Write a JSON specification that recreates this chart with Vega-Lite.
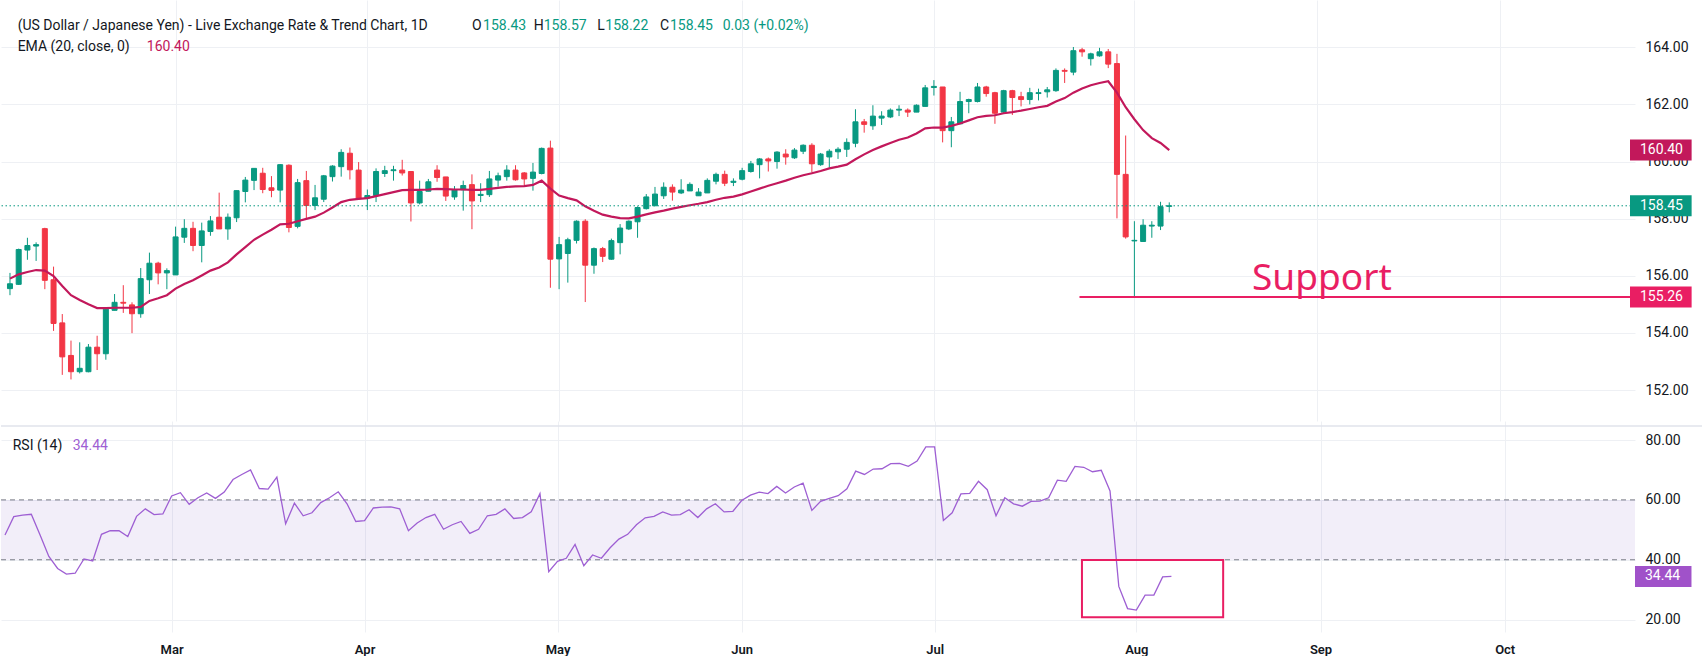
{
"$schema": "https://vega.github.io/schema/vega-lite/v6.json",
"padding": 0,
"background": "#ffffff",
"spacing": 0,
"config": {"view": {"stroke": null}, "axis": {"gridColor": "#eef0f4", "labelFont": "Roboto", "labelColor": "#131722", "labelFontSize": 14, "domain": false, "ticks": false}},
"resolve": {"scale": {"x": "independent", "y": "independent", "color": "independent"}},
"datasets": {"ohlc": [
{"i":0,"o":155.55,"h":156.10,"l":155.32,"c":155.72,"e":155.90,"r":48.3},
{"i":1,"o":155.70,"h":156.95,"l":155.68,"c":156.92,"e":156.05,"r":54.4},
{"i":2,"o":156.90,"h":157.33,"l":156.56,"c":157.06,"e":156.13,"r":54.9},
{"i":3,"o":157.04,"h":157.17,"l":156.52,"c":157.09,"e":156.20,"r":55.2},
{"i":4,"o":157.65,"h":157.68,"l":155.53,"c":155.84,"e":156.18,"r":48.3},
{"i":5,"o":155.86,"h":156.32,"l":154.07,"c":154.33,"e":155.99,"r":41.1},
{"i":6,"o":154.35,"h":154.66,"l":152.53,"c":153.16,"e":155.64,"r":37.1},
{"i":7,"o":153.21,"h":153.73,"l":152.37,"c":152.64,"e":155.32,"r":35.2},
{"i":8,"o":152.64,"h":153.67,"l":152.58,"c":152.76,"e":155.15,"r":35.5},
{"i":9,"o":152.64,"h":153.61,"l":152.62,"c":153.50,"e":155.00,"r":40.3},
{"i":10,"o":153.50,"h":153.90,"l":152.70,"c":153.27,"e":154.87,"r":39.6},
{"i":11,"o":153.27,"h":154.87,"l":153.06,"c":154.83,"e":154.87,"r":48.5},
{"i":12,"o":154.79,"h":155.36,"l":154.79,"c":155.07,"e":154.88,"r":49.7},
{"i":13,"o":155.07,"h":155.67,"l":154.70,"c":155.04,"e":154.88,"r":49.7},
{"i":14,"o":154.98,"h":155.07,"l":153.99,"c":154.67,"e":154.88,"r":47.8},
{"i":15,"o":154.67,"h":156.27,"l":154.53,"c":155.90,"e":154.91,"r":54.5},
{"i":16,"o":155.86,"h":156.81,"l":155.36,"c":156.44,"e":155.12,"r":57.0},
{"i":17,"o":156.44,"h":156.49,"l":155.70,"c":156.10,"e":155.21,"r":55.1},
{"i":18,"o":156.10,"h":156.26,"l":155.53,"c":156.18,"e":155.32,"r":55.3},
{"i":19,"o":156.03,"h":157.72,"l":156.03,"c":157.36,"e":155.55,"r":61.3},
{"i":20,"o":157.35,"h":157.98,"l":157.15,"c":157.66,"e":155.71,"r":62.4},
{"i":21,"o":157.66,"h":157.89,"l":156.86,"c":157.06,"e":155.84,"r":58.5},
{"i":22,"o":157.06,"h":157.86,"l":156.47,"c":157.57,"e":156.01,"r":60.7},
{"i":23,"o":157.55,"h":158.09,"l":157.40,"c":157.92,"e":156.18,"r":62.3},
{"i":24,"o":158.05,"h":158.91,"l":157.64,"c":157.64,"e":156.29,"r":60.5},
{"i":25,"o":157.64,"h":158.18,"l":157.26,"c":158.05,"e":156.47,"r":62.6},
{"i":26,"o":158.03,"h":158.98,"l":157.88,"c":158.98,"e":156.75,"r":66.8},
{"i":27,"o":158.95,"h":159.46,"l":158.57,"c":159.35,"e":157.00,"r":68.5},
{"i":28,"o":159.34,"h":159.76,"l":159.00,"c":159.76,"e":157.26,"r":70.0},
{"i":29,"o":159.59,"h":159.78,"l":158.89,"c":159.02,"e":157.44,"r":63.8},
{"i":30,"o":159.08,"h":159.49,"l":158.75,"c":158.99,"e":157.61,"r":63.6},
{"i":31,"o":159.00,"h":159.91,"l":158.57,"c":159.89,"e":157.80,"r":67.6},
{"i":32,"o":159.87,"h":159.90,"l":157.52,"c":157.69,"e":157.82,"r":52.0},
{"i":33,"o":157.73,"h":159.39,"l":157.66,"c":159.26,"e":157.91,"r":58.9},
{"i":34,"o":159.33,"h":159.67,"l":158.01,"c":158.46,"e":157.99,"r":54.7},
{"i":35,"o":158.46,"h":159.18,"l":158.30,"c":158.73,"e":158.07,"r":55.7},
{"i":36,"o":158.68,"h":159.53,"l":158.58,"c":159.50,"e":158.21,"r":59.1},
{"i":37,"o":159.47,"h":159.87,"l":159.30,"c":159.84,"e":158.39,"r":60.7},
{"i":38,"o":159.82,"h":160.43,"l":159.47,"c":160.32,"e":158.58,"r":62.7},
{"i":39,"o":160.29,"h":160.49,"l":159.37,"c":159.71,"e":158.66,"r":58.7},
{"i":40,"o":159.70,"h":159.98,"l":158.71,"c":158.71,"e":158.69,"r":52.8},
{"i":41,"o":158.72,"h":159.02,"l":158.30,"c":158.81,"e":158.72,"r":53.1},
{"i":42,"o":158.81,"h":159.76,"l":158.58,"c":159.65,"e":158.79,"r":57.3},
{"i":43,"o":159.58,"h":159.85,"l":159.46,"c":159.68,"e":158.86,"r":57.6},
{"i":44,"o":159.68,"h":159.85,"l":159.33,"c":159.71,"e":158.93,"r":57.7},
{"i":45,"o":159.70,"h":160.06,"l":159.51,"c":159.60,"e":159.00,"r":57.0},
{"i":46,"o":159.65,"h":159.65,"l":157.90,"c":158.55,"e":159.01,"r":49.7},
{"i":47,"o":158.55,"h":159.33,"l":158.50,"c":158.95,"e":159.01,"r":52.3},
{"i":48,"o":158.96,"h":159.39,"l":158.96,"c":159.29,"e":159.02,"r":54.1},
{"i":49,"o":159.70,"h":159.87,"l":159.29,"c":159.44,"e":159.04,"r":55.2},
{"i":50,"o":159.46,"h":159.46,"l":158.62,"c":158.79,"e":159.03,"r":50.2},
{"i":51,"o":158.76,"h":159.14,"l":158.66,"c":159.01,"e":159.02,"r":51.7},
{"i":52,"o":159.01,"h":159.33,"l":158.28,"c":159.16,"e":159.02,"r":52.8},
{"i":53,"o":159.19,"h":159.55,"l":157.63,"c":158.62,"e":159.01,"r":48.8},
{"i":54,"o":158.81,"h":159.24,"l":158.58,"c":158.85,"e":159.01,"r":50.2},
{"i":55,"o":158.84,"h":159.67,"l":158.76,"c":159.39,"e":159.04,"r":54.7},
{"i":56,"o":159.35,"h":159.61,"l":159.12,"c":159.50,"e":159.08,"r":55.2},
{"i":57,"o":159.47,"h":159.87,"l":159.33,"c":159.70,"e":159.11,"r":57.0},
{"i":58,"o":159.70,"h":159.87,"l":159.33,"c":159.36,"e":159.13,"r":53.8},
{"i":59,"o":159.60,"h":159.63,"l":159.16,"c":159.39,"e":159.14,"r":54.1},
{"i":60,"o":159.41,"h":159.95,"l":158.98,"c":159.63,"e":159.18,"r":56.0},
{"i":61,"o":159.58,"h":160.49,"l":159.55,"c":160.46,"e":159.33,"r":62.1},
{"i":62,"o":160.47,"h":160.73,"l":155.58,"c":156.58,"e":159.05,"r":36.0},
{"i":63,"o":156.59,"h":157.36,"l":155.53,"c":157.09,"e":158.81,"r":39.5},
{"i":64,"o":156.78,"h":157.33,"l":155.76,"c":157.26,"e":158.72,"r":40.5},
{"i":65,"o":157.24,"h":157.94,"l":157.13,"c":157.91,"e":158.64,"r":45.1},
{"i":66,"o":157.91,"h":157.98,"l":155.08,"c":156.37,"e":158.43,"r":38.0},
{"i":67,"o":156.37,"h":156.99,"l":156.07,"c":156.95,"e":158.28,"r":41.6},
{"i":68,"o":156.95,"h":157.01,"l":156.48,"c":156.68,"e":158.14,"r":40.5},
{"i":69,"o":156.58,"h":157.30,"l":156.56,"c":157.23,"e":158.07,"r":44.0},
{"i":70,"o":157.16,"h":157.81,"l":156.75,"c":157.67,"e":158.02,"r":46.9},
{"i":71,"o":157.64,"h":157.94,"l":157.60,"c":157.91,"e":158.01,"r":48.5},
{"i":72,"o":157.89,"h":158.43,"l":157.33,"c":158.39,"e":158.07,"r":51.7},
{"i":73,"o":158.35,"h":158.86,"l":158.32,"c":158.76,"e":158.15,"r":54.0},
{"i":74,"o":158.45,"h":159.11,"l":158.45,"c":158.86,"e":158.22,"r":54.5},
{"i":75,"o":158.80,"h":159.27,"l":158.69,"c":159.10,"e":158.28,"r":56.0},
{"i":76,"o":159.10,"h":159.20,"l":158.63,"c":158.93,"e":158.35,"r":54.9},
{"i":77,"o":158.90,"h":159.38,"l":158.86,"c":159.00,"e":158.41,"r":55.1},
{"i":78,"o":158.97,"h":159.27,"l":158.97,"c":159.20,"e":158.47,"r":56.7},
{"i":79,"o":158.80,"h":159.07,"l":158.80,"c":158.93,"e":158.52,"r":54.1},
{"i":80,"o":158.90,"h":159.41,"l":158.90,"c":159.34,"e":158.58,"r":57.0},
{"i":81,"o":159.31,"h":159.61,"l":159.20,"c":159.55,"e":158.66,"r":58.7},
{"i":82,"o":159.55,"h":159.68,"l":159.14,"c":159.24,"e":158.73,"r":56.0},
{"i":83,"o":159.27,"h":159.41,"l":159.14,"c":159.31,"e":158.77,"r":56.2},
{"i":84,"o":159.38,"h":159.78,"l":159.34,"c":159.68,"e":158.85,"r":59.8},
{"i":85,"o":159.65,"h":160.02,"l":159.61,"c":159.92,"e":158.95,"r":61.6},
{"i":86,"o":159.89,"h":160.12,"l":159.41,"c":160.09,"e":159.05,"r":62.6},
{"i":87,"o":160.09,"h":160.14,"l":159.65,"c":160.02,"e":159.15,"r":62.1},
{"i":88,"o":160.00,"h":160.36,"l":159.75,"c":160.33,"e":159.24,"r":64.5},
{"i":89,"o":160.26,"h":160.43,"l":159.89,"c":160.16,"e":159.33,"r":62.3},
{"i":90,"o":160.13,"h":160.47,"l":160.09,"c":160.40,"e":159.43,"r":64.3},
{"i":91,"o":160.36,"h":160.60,"l":160.26,"c":160.57,"e":159.52,"r":65.6},
{"i":92,"o":160.57,"h":160.64,"l":159.61,"c":159.92,"e":159.59,"r":56.5},
{"i":93,"o":159.89,"h":160.30,"l":159.85,"c":160.26,"e":159.67,"r":59.5},
{"i":94,"o":160.16,"h":160.43,"l":159.78,"c":160.36,"e":159.76,"r":60.5},
{"i":95,"o":160.34,"h":160.50,"l":160.09,"c":160.43,"e":159.82,"r":61.4},
{"i":96,"o":160.43,"h":160.81,"l":160.16,"c":160.67,"e":159.89,"r":63.7},
{"i":97,"o":160.64,"h":161.83,"l":160.50,"c":161.39,"e":160.08,"r":69.6},
{"i":98,"o":161.39,"h":161.49,"l":161.01,"c":161.30,"e":160.25,"r":68.5},
{"i":99,"o":161.25,"h":161.97,"l":161.11,"c":161.59,"e":160.40,"r":70.3},
{"i":100,"o":161.52,"h":161.76,"l":161.28,"c":161.59,"e":160.53,"r":70.4},
{"i":101,"o":161.56,"h":161.86,"l":161.52,"c":161.80,"e":160.65,"r":72.1},
{"i":102,"o":161.80,"h":161.97,"l":161.59,"c":161.83,"e":160.76,"r":72.2},
{"i":103,"o":161.80,"h":161.86,"l":161.56,"c":161.73,"e":160.84,"r":71.2},
{"i":104,"o":161.73,"h":162.00,"l":161.73,"c":161.97,"e":160.98,"r":73.0},
{"i":105,"o":161.93,"h":162.68,"l":161.93,"c":162.58,"e":161.16,"r":77.7},
{"i":106,"o":162.59,"h":162.85,"l":162.31,"c":162.63,"e":161.19,"r":77.7},
{"i":107,"o":162.61,"h":162.61,"l":160.67,"c":161.08,"e":161.19,"r":53.1},
{"i":108,"o":161.08,"h":161.56,"l":160.50,"c":161.39,"e":161.25,"r":55.7},
{"i":109,"o":161.32,"h":162.44,"l":161.32,"c":162.10,"e":161.33,"r":62.0},
{"i":110,"o":162.10,"h":162.20,"l":161.69,"c":162.17,"e":161.44,"r":62.2},
{"i":111,"o":162.10,"h":162.75,"l":162.07,"c":162.61,"e":161.55,"r":66.2},
{"i":112,"o":162.61,"h":162.65,"l":162.27,"c":162.38,"e":161.60,"r":63.4},
{"i":113,"o":162.41,"h":162.44,"l":161.32,"c":161.69,"e":161.62,"r":54.7},
{"i":114,"o":161.73,"h":162.51,"l":161.69,"c":162.48,"e":161.69,"r":60.7},
{"i":115,"o":162.48,"h":162.51,"l":161.63,"c":162.24,"e":161.73,"r":58.7},
{"i":116,"o":162.27,"h":162.44,"l":161.93,"c":162.17,"e":161.78,"r":57.9},
{"i":117,"o":162.17,"h":162.58,"l":162.00,"c":162.41,"e":161.84,"r":59.5},
{"i":118,"o":162.38,"h":162.55,"l":162.14,"c":162.41,"e":161.90,"r":59.6},
{"i":119,"o":162.44,"h":162.61,"l":162.24,"c":162.51,"e":161.95,"r":60.7},
{"i":120,"o":162.48,"h":163.26,"l":162.44,"c":163.19,"e":162.10,"r":66.6},
{"i":121,"o":163.19,"h":163.26,"l":162.75,"c":163.16,"e":162.22,"r":66.2},
{"i":122,"o":163.13,"h":164.01,"l":163.02,"c":163.88,"e":162.41,"r":71.2},
{"i":123,"o":163.91,"h":163.98,"l":163.67,"c":163.84,"e":162.56,"r":70.9},
{"i":124,"o":163.60,"h":163.81,"l":163.36,"c":163.77,"e":162.67,"r":69.4},
{"i":125,"o":163.70,"h":163.98,"l":163.67,"c":163.84,"e":162.75,"r":69.9},
{"i":126,"o":163.84,"h":163.94,"l":163.27,"c":163.41,"e":162.81,"r":63.0},
{"i":127,"o":163.43,"h":163.77,"l":158.01,"c":159.55,"e":162.41,"r":31.1},
{"i":128,"o":159.55,"h":160.91,"l":157.30,"c":157.36,"e":161.90,"r":23.7},
{"i":129,"o":157.22,"h":157.91,"l":155.26,"c":157.24,"e":161.48,"r":23.2},
{"i":130,"o":157.20,"h":157.98,"l":157.20,"c":157.77,"e":161.10,"r":28.2},
{"i":131,"o":157.74,"h":157.91,"l":157.33,"c":157.77,"e":160.82,"r":28.2},
{"i":132,"o":157.74,"h":158.59,"l":157.60,"c":158.42,"e":160.65,"r":34.3},
{"i":133,"o":158.43,"h":158.57,"l":158.22,"c":158.45,"e":160.40,"r":34.44}
]},
"vconcat": [
{
 "width": 1634, "height": 421,
 "layer": [
  {"data": {"name": "ohlc"},
   "mark": {"type": "rule", "strokeWidth": 1},
   "encoding": {
    "x": {"field": "i", "type": "quantitative", "title": null, "scale": {"domain": [-0.456, 185.86], "nice": false, "zero": false},
          "axis": {"values": [19,41,63,84,106,129,150,171], "labels": false, "grid": true, "minExtent": 0, "maxExtent": 0, "labelPadding": 0, "title": null}},
    "y": {"field": "l", "type": "quantitative", "title": null, "scale": {"domain": [151.09, 165.48], "nice": false, "zero": false},
          "axis": {"orient": "right", "values": [152,154,156,158,160,162,164], "format": ".2f", "labelAlign": "left", "labelBaseline": "middle", "labelPadding": 10, "grid": true, "title": null}},
    "y2": {"field": "h"},
    "color": {"condition": {"test": "datum.c >= datum.o", "value": "#089981"}, "value": "#f23645"}
   }},
  {"data": {"name": "ohlc"},
   "mark": {"type": "bar", "orient": "vertical", "size": 5, "strokeWidth": 1},
   "encoding": {
    "x": {"field": "i", "type": "quantitative", "title": null, "scale": {"domain": [-0.456, 185.86], "nice": false, "zero": false},
          "axis": {"values": [19,41,63,84,106,129,150,171], "labels": false, "grid": true, "minExtent": 0, "maxExtent": 0, "labelPadding": 0, "title": null}},
    "y": {"field": "o", "type": "quantitative", "title": null, "scale": {"domain": [151.09, 165.48], "nice": false, "zero": false},
          "axis": {"orient": "right", "values": [152,154,156,158,160,162,164], "format": ".2f", "labelAlign": "left", "labelBaseline": "middle", "labelPadding": 10, "grid": true, "title": null}},
    "y2": {"field": "c"},
    "color": {"condition": {"test": "datum.c >= datum.o", "value": "#089981"}, "value": "#f23645"},
    "stroke": {"condition": {"test": "datum.c >= datum.o", "value": "#089981"}, "value": "#f23645"}
   }},
  {"data": {"name": "ohlc"},
   "mark": {"type": "line", "color": "#c2185b", "strokeWidth": 2.2},
   "encoding": {
    "x": {"field": "i", "type": "quantitative", "title": null, "scale": {"domain": [-0.456, 185.86], "nice": false, "zero": false},
          "axis": {"values": [19,41,63,84,106,129,150,171], "labels": false, "grid": true, "minExtent": 0, "maxExtent": 0, "labelPadding": 0, "title": null}},
    "y": {"field": "e", "type": "quantitative", "title": null, "scale": {"domain": [151.09, 165.48], "nice": false, "zero": false},
          "axis": {"orient": "right", "values": [152,154,156,158,160,162,164], "format": ".2f", "labelAlign": "left", "labelBaseline": "middle", "labelPadding": 10, "grid": true, "title": null}}
   }},
  {"data": {"values": [{"v": 158.45}]},
   "mark": {"type": "rule", "color": "#089981", "strokeWidth": 1, "strokeDash": [1.5, 2.5]},
   "encoding": {
    "y": {"field": "v", "type": "quantitative", "title": null, "scale": {"domain": [151.09, 165.48], "nice": false, "zero": false},
          "axis": {"orient": "right", "values": [152,154,156,158,160,162,164], "format": ".2f", "labelAlign": "left", "labelBaseline": "middle", "labelPadding": 10, "grid": true, "title": null}}
   }},
  {"data": {"values": [{"v": 155.26}]},
   "mark": {"type": "rule", "color": "#e91e63", "strokeWidth": 2},
   "encoding": {
    "x": {"datum": 122.7, "type": "quantitative", "title": null, "scale": {"domain": [-0.456, 185.86], "nice": false, "zero": false},
          "axis": {"values": [19,41,63,84,106,129,150,171], "labels": false, "grid": true, "minExtent": 0, "maxExtent": 0, "labelPadding": 0, "title": null}},
    "x2": {"datum": 185.86},
    "y": {"field": "v", "type": "quantitative", "title": null, "scale": {"domain": [151.09, 165.48], "nice": false, "zero": false},
          "axis": {"orient": "right", "values": [152,154,156,158,160,162,164], "format": ".2f", "labelAlign": "left", "labelBaseline": "middle", "labelPadding": 10, "grid": true, "title": null}}
   }},
  {"data": {"values": [{"t": "Support", "v": 155.51}]},
   "mark": {"type": "text", "align": "left", "baseline": "alphabetic", "font": "Noto Sans", "fontSize": 37, "color": "#e91e63"},
   "encoding": {
    "x": {"datum": 142.5, "type": "quantitative", "title": null, "scale": {"domain": [-0.456, 185.86], "nice": false, "zero": false},
          "axis": {"values": [19,41,63,84,106,129,150,171], "labels": false, "grid": true, "minExtent": 0, "maxExtent": 0, "labelPadding": 0, "title": null}},
    "y": {"field": "v", "type": "quantitative", "title": null, "scale": {"domain": [151.09, 165.48], "nice": false, "zero": false},
          "axis": {"orient": "right", "values": [152,154,156,158,160,162,164], "format": ".2f", "labelAlign": "left", "labelBaseline": "middle", "labelPadding": 10, "grid": true, "title": null}},
    "text": {"field": "t"}
   }},
  {"data": {"values": [{"v": 160.40, "t": "160.40", "k": "ema"}, {"v": 158.45, "t": "158.45", "k": "up"}, {"v": 155.26, "t": "155.26", "k": "sup"}]},
   "mark": {"type": "bar", "orient": "horizontal", "size": 21, "clip": false},
   "encoding": {
    "x": {"datum": 185.86, "type": "quantitative", "title": null, "scale": {"domain": [-0.456, 185.86], "nice": false, "zero": false},
          "axis": {"values": [19,41,63,84,106,129,150,171], "labels": false, "grid": true, "minExtent": 0, "maxExtent": 0, "labelPadding": 0, "title": null}},
    "x2": {"datum": 192.93},
    "y": {"field": "v", "type": "quantitative", "title": null, "scale": {"domain": [151.09, 165.48], "nice": false, "zero": false},
          "axis": {"orient": "right", "values": [152,154,156,158,160,162,164], "format": ".2f", "labelAlign": "left", "labelBaseline": "middle", "labelPadding": 10, "grid": true, "title": null}},
    "color": {"field": "k", "type": "nominal", "scale": {"domain": ["txt", "up", "ema", "sup"], "range": ["#131722", "#089981", "#c2185b", "#e91e63"]}, "legend": null}
   }},
  {"data": {"values": [{"v": 160.40, "t": "160.40"}, {"v": 158.45, "t": "158.45"}, {"v": 155.26, "t": "155.26"}]},
   "mark": {"type": "text", "align": "left", "baseline": "middle", "font": "Roboto", "fontSize": 14, "color": "#ffffff", "clip": false},
   "encoding": {
    "x": {"datum": 187.0, "type": "quantitative", "title": null, "scale": {"domain": [-0.456, 185.86], "nice": false, "zero": false},
          "axis": {"values": [19,41,63,84,106,129,150,171], "labels": false, "grid": true, "minExtent": 0, "maxExtent": 0, "labelPadding": 0, "title": null}},
    "y": {"field": "v", "type": "quantitative", "title": null, "scale": {"domain": [151.09, 165.48], "nice": false, "zero": false},
          "axis": {"orient": "right", "values": [152,154,156,158,160,162,164], "format": ".2f", "labelAlign": "left", "labelBaseline": "middle", "labelPadding": 10, "grid": true, "title": null}},
    "text": {"field": "t"}
   }},
  {"data": {"values": [
     {"t": "(US Dollar / Japanese Yen) - Live Exchange Rate & Trend Chart, 1D", "x": 0.878, "y": 164.59, "k": "txt"},
     {"t": "O", "x": 53.02, "y": 164.59, "k": "txt"},
     {"t": "158.43", "x": 54.28, "y": 164.59, "k": "up"},
     {"t": "H", "x": 60.09, "y": 164.59, "k": "txt"},
     {"t": "158.57", "x": 61.23, "y": 164.59, "k": "up"},
     {"t": "L", "x": 67.39, "y": 164.59, "k": "txt"},
     {"t": "158.22", "x": 68.30, "y": 164.59, "k": "up"},
     {"t": "C", "x": 74.57, "y": 164.59, "k": "txt"},
     {"t": "158.45", "x": 75.71, "y": 164.59, "k": "up"},
     {"t": "0.03 (+0.02%)", "x": 81.76, "y": 164.59, "k": "up"},
     {"t": "EMA (20, close, 0)", "x": 0.878, "y": 163.86, "k": "txt"},
     {"t": "160.40", "x": 15.70, "y": 163.86, "k": "ema"}
   ]},
   "mark": {"type": "text", "align": "left", "baseline": "alphabetic", "font": "Roboto", "fontSize": 14},
   "encoding": {
    "x": {"field": "x", "type": "quantitative", "title": null, "scale": {"domain": [-0.456, 185.86], "nice": false, "zero": false},
          "axis": {"values": [19,41,63,84,106,129,150,171], "labels": false, "grid": true, "minExtent": 0, "maxExtent": 0, "labelPadding": 0, "title": null}},
    "y": {"field": "y", "type": "quantitative", "title": null, "scale": {"domain": [151.09, 165.48], "nice": false, "zero": false},
          "axis": {"orient": "right", "values": [152,154,156,158,160,162,164], "format": ".2f", "labelAlign": "left", "labelBaseline": "middle", "labelPadding": 10, "grid": true, "title": null}},
    "text": {"field": "t"},
    "color": {"field": "k", "type": "nominal", "scale": {"domain": ["txt", "up", "ema", "sup"], "range": ["#131722", "#089981", "#c2185b", "#e91e63"]}, "legend": null}
   }}
 ]
},
{
 "width": 1634, "height": 211,
 "layer": [
  {"data": {"values": [{"lo": 40, "hi": 60}]},
   "mark": {"type": "rect", "color": "#7e57c2", "opacity": 0.1},
   "encoding": {
    "y": {"field": "lo", "type": "quantitative", "title": null, "scale": {"domain": [17.55, 84.68], "nice": false, "zero": false},
          "axis": {"orient": "right", "values": [20, 40, 60, 80], "format": ".2f", "labelAlign": "left", "labelBaseline": "middle", "labelPadding": 10, "grid": true, "title": null}},
    "y2": {"field": "hi"}
   }},
  {"data": {"values": [{"v": 60}, {"v": 40}]},
   "mark": {"type": "rule", "color": "#787b86", "strokeWidth": 1, "strokeDash": [5, 4]},
   "encoding": {
    "y": {"field": "v", "type": "quantitative", "title": null, "scale": {"domain": [17.55, 84.68], "nice": false, "zero": false},
          "axis": {"orient": "right", "values": [20, 40, 60, 80], "format": ".2f", "labelAlign": "left", "labelBaseline": "middle", "labelPadding": 10, "grid": true, "title": null}}
   }},
  {"data": {"name": "ohlc"},
   "mark": {"type": "line", "color": "#9e5fd3", "strokeWidth": 1.3},
   "encoding": {
    "x": {"field": "i", "type": "quantitative", "title": null, "scale": {"domain": [-0.456, 185.86], "nice": false, "zero": false},
          "axis": {"values": [19,41,63,84,106,129,150,171], "labelExpr": "datum.value == 19 ? 'Mar' : datum.value == 41 ? 'Apr' : datum.value == 63 ? 'May' : datum.value == 84 ? 'Jun' : datum.value == 106 ? 'Jul' : datum.value == 129 ? 'Aug' : datum.value == 150 ? 'Sep' : 'Oct'", "labelFontWeight": 600, "labelFontSize": 13, "labelPadding": 11, "labelBaseline": "top", "labelAlign": "center", "labelFlush": false, "labelOverlap": false, "grid": true, "title": null}},
    "y": {"field": "r", "type": "quantitative", "title": null, "scale": {"domain": [17.55, 84.68], "nice": false, "zero": false},
          "axis": {"orient": "right", "values": [20, 40, 60, 80], "format": ".2f", "labelAlign": "left", "labelBaseline": "middle", "labelPadding": 10, "grid": true, "title": null}}
   }},
  {"data": {"values": [{"k": "zone"}]},
   "mark": {"type": "rect", "fillOpacity": 0, "stroke": "#e91e63", "strokeWidth": 2},
   "encoding": {
    "x": {"datum": 122.8, "type": "quantitative", "title": null, "scale": {"domain": [-0.456, 185.86], "nice": false, "zero": false},
          "axis": {"values": [19,41,63,84,106,129,150,171], "labelExpr": "datum.value == 19 ? 'Mar' : datum.value == 41 ? 'Apr' : datum.value == 63 ? 'May' : datum.value == 84 ? 'Jun' : datum.value == 106 ? 'Jul' : datum.value == 129 ? 'Aug' : datum.value == 150 ? 'Sep' : 'Oct'", "labelFontWeight": 600, "labelFontSize": 13, "labelPadding": 11, "labelBaseline": "top", "labelAlign": "center", "labelFlush": false, "labelOverlap": false, "grid": true, "title": null}},
    "x2": {"datum": 138.9},
    "y": {"datum": 20.8, "type": "quantitative", "title": null, "scale": {"domain": [17.55, 84.68], "nice": false, "zero": false},
          "axis": {"orient": "right", "values": [20, 40, 60, 80], "format": ".2f", "labelAlign": "left", "labelBaseline": "middle", "labelPadding": 10, "grid": true, "title": null}},
    "y2": {"datum": 39.9}
   }},
  {"data": {"values": [{"v": 34.44, "t": "34.44"}]},
   "mark": {"type": "bar", "orient": "horizontal", "size": 21, "clip": false, "color": "#a052c9"},
   "encoding": {
    "x": {"datum": 185.86, "type": "quantitative", "title": null, "scale": {"domain": [-0.456, 185.86], "nice": false, "zero": false},
          "axis": {"values": [19,41,63,84,106,129,150,171], "labelExpr": "datum.value == 19 ? 'Mar' : datum.value == 41 ? 'Apr' : datum.value == 63 ? 'May' : datum.value == 84 ? 'Jun' : datum.value == 106 ? 'Jul' : datum.value == 129 ? 'Aug' : datum.value == 150 ? 'Sep' : 'Oct'", "labelFontWeight": 600, "labelFontSize": 13, "labelPadding": 11, "labelBaseline": "top", "labelAlign": "center", "labelFlush": false, "labelOverlap": false, "grid": true, "title": null}},
    "x2": {"datum": 192.3},
    "y": {"field": "v", "type": "quantitative", "title": null, "scale": {"domain": [17.55, 84.68], "nice": false, "zero": false},
          "axis": {"orient": "right", "values": [20, 40, 60, 80], "format": ".2f", "labelAlign": "left", "labelBaseline": "middle", "labelPadding": 10, "grid": true, "title": null}}
   }},
  {"data": {"values": [{"v": 34.44, "t": "34.44"}]},
   "mark": {"type": "text", "align": "left", "baseline": "middle", "font": "Roboto", "fontSize": 14, "color": "#ffffff", "clip": false},
   "encoding": {
    "x": {"datum": 187.0, "type": "quantitative", "title": null, "scale": {"domain": [-0.456, 185.86], "nice": false, "zero": false},
          "axis": {"values": [19,41,63,84,106,129,150,171], "labelExpr": "datum.value == 19 ? 'Mar' : datum.value == 41 ? 'Apr' : datum.value == 63 ? 'May' : datum.value == 84 ? 'Jun' : datum.value == 106 ? 'Jul' : datum.value == 129 ? 'Aug' : datum.value == 150 ? 'Sep' : 'Oct'", "labelFontWeight": 600, "labelFontSize": 13, "labelPadding": 11, "labelBaseline": "top", "labelAlign": "center", "labelFlush": false, "labelOverlap": false, "grid": true, "title": null}},
    "y": {"field": "v", "type": "quantitative", "title": null, "scale": {"domain": [17.55, 84.68], "nice": false, "zero": false},
          "axis": {"orient": "right", "values": [20, 40, 60, 80], "format": ".2f", "labelAlign": "left", "labelBaseline": "middle", "labelPadding": 10, "grid": true, "title": null}},
    "text": {"field": "t"}
   }},
  {"data": {"values": [{"t": "RSI (14)", "x": 0.878, "y": 76.5, "k": "txt"}, {"t": "34.44", "x": 7.72, "y": 76.5, "k": "rsi"}]},
   "mark": {"type": "text", "align": "left", "baseline": "alphabetic", "font": "Roboto", "fontSize": 14},
   "encoding": {
    "x": {"field": "x", "type": "quantitative", "title": null, "scale": {"domain": [-0.456, 185.86], "nice": false, "zero": false},
          "axis": {"values": [19,41,63,84,106,129,150,171], "labelExpr": "datum.value == 19 ? 'Mar' : datum.value == 41 ? 'Apr' : datum.value == 63 ? 'May' : datum.value == 84 ? 'Jun' : datum.value == 106 ? 'Jul' : datum.value == 129 ? 'Aug' : datum.value == 150 ? 'Sep' : 'Oct'", "labelFontWeight": 600, "labelFontSize": 13, "labelPadding": 11, "labelBaseline": "top", "labelAlign": "center", "labelFlush": false, "labelOverlap": false, "grid": true, "title": null}},
    "y": {"field": "y", "type": "quantitative", "title": null, "scale": {"domain": [17.55, 84.68], "nice": false, "zero": false},
          "axis": {"orient": "right", "values": [20, 40, 60, 80], "format": ".2f", "labelAlign": "left", "labelBaseline": "middle", "labelPadding": 10, "grid": true, "title": null}},
    "text": {"field": "t"},
    "color": {"field": "k", "type": "nominal", "scale": {"domain": ["txt", "rsi"], "range": ["#131722", "#9e5fd3"]}, "legend": null}
   }},
  {"data": {"values": [{"k": "sep"}]},
   "mark": {"type": "rule", "color": "#e0e3eb", "strokeWidth": 1.5, "clip": false},
   "encoding": {
    "x": {"datum": -0.456, "type": "quantitative", "title": null, "scale": {"domain": [-0.456, 185.86], "nice": false, "zero": false},
          "axis": {"values": [19,41,63,84,106,129,150,171], "labelExpr": "datum.value == 19 ? 'Mar' : datum.value == 41 ? 'Apr' : datum.value == 63 ? 'May' : datum.value == 84 ? 'Jun' : datum.value == 106 ? 'Jul' : datum.value == 129 ? 'Aug' : datum.value == 150 ? 'Sep' : 'Oct'", "labelFontWeight": 600, "labelFontSize": 13, "labelPadding": 11, "labelBaseline": "top", "labelAlign": "center", "labelFlush": false, "labelOverlap": false, "grid": true, "title": null}},
    "x2": {"datum": 193.6},
    "y": {"datum": 84.68, "type": "quantitative", "title": null, "scale": {"domain": [17.55, 84.68], "nice": false, "zero": false},
          "axis": {"orient": "right", "values": [20, 40, 60, 80], "format": ".2f", "labelAlign": "left", "labelBaseline": "middle", "labelPadding": 10, "grid": true, "title": null}}
   }}
 ]
}
]
}
